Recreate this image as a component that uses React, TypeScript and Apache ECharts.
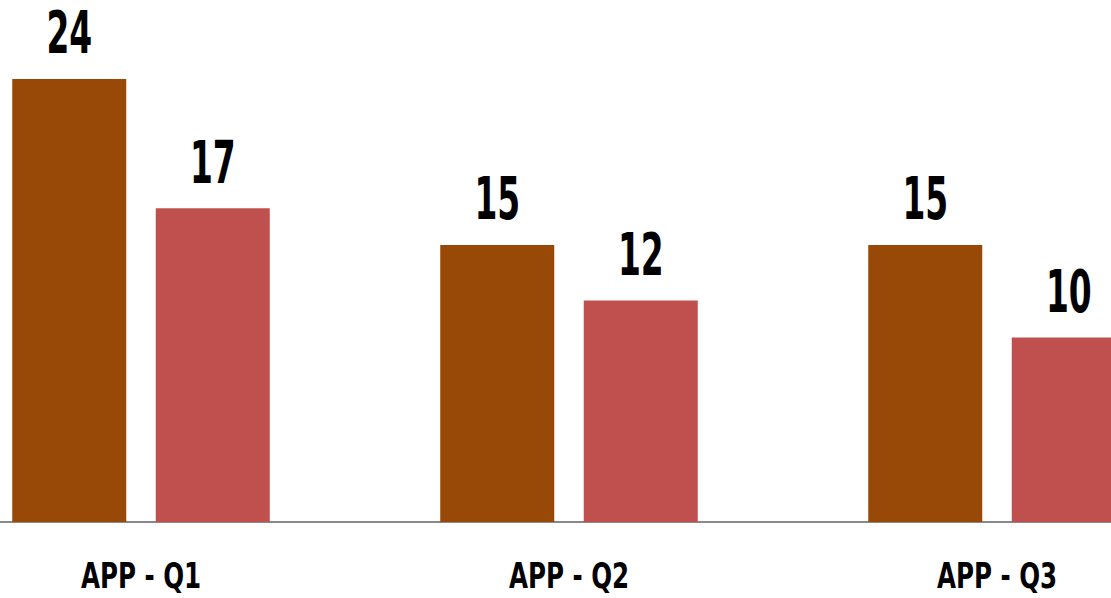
import React, { useEffect, useRef } from "react";
import * as echarts from "echarts";

const categories = ["APP - Q1", "APP - Q2", "APP - Q3"];
const seriesA = [24, 15, 15];
const seriesB = [17, 12, 10];

const BROWN = "#984807";
const RED = "#C0504D";
const FONT = "'DejaVu Sans Condensed', 'DejaVu Sans', sans-serif";
const BAR_W = 114;
const BAR_GAP = 29.5;

// Condensed bold text drawn through a custom series so it can be narrowed.
function valueLabels(values: number[], shift: number) {
  return {
    type: "custom",
    clip: false,
    silent: true,
    data: values.map((v, i) => [i, v]),
    encode: { x: 0, y: 1 },
    renderItem: (params: any, api: any) => {
      const p = api.coord([api.value(0), api.value(1)]);
      return {
        type: "text",
        x: p[0] + shift,
        y: p[1] - 46,
        scaleX: 0.63,
        style: {
          text: String(api.value(1)),
          fontFamily: FONT,
          fontWeight: "bold",
          fontSize: 58,
          lineHeight: 46,
          fill: "#000",
          align: "center",
          verticalAlign: "middle",
        },
      };
    },
  };
}

export default function App() {
  const ref = useRef<HTMLDivElement>(null);

  useEffect(() => {
    if (!ref.current) return;
    const chart = echarts.init(ref.current, null, { renderer: "svg" });
    const half = (BAR_W + BAR_GAP) / 2;
    chart.setOption({
      animation: false,
      backgroundColor: "#fff",
      grid: { left: 0, right: 0, top: 60.5, bottom: 76, containLabel: false },
      xAxis: {
        type: "category",
        data: categories,
        axisLine: { show: true, lineStyle: { color: "#898989", width: 2 } },
        axisTick: { show: false },
        axisLabel: { show: false },
      },
      yAxis: {
        type: "value",
        min: 0,
        max: 25,
        show: false,
        splitLine: { show: false },
      },
      series: [
        {
          type: "bar",
          data: seriesA,
          barWidth: BAR_W,
          barGap: (BAR_GAP / BAR_W) * 100 + "%",
          itemStyle: { color: BROWN },
        },
        {
          type: "bar",
          data: seriesB,
          barWidth: BAR_W,
          itemStyle: { color: RED },
        },
        valueLabels(seriesA, -half),
        valueLabels(seriesB, half),
        {
          type: "custom",
          clip: false,
          silent: true,
          data: categories.map((_, i) => [i, 0]),
          encode: { x: 0, y: 1 },
          renderItem: (params: any, api: any) => {
            const p = api.coord([api.value(0), 0]);
            return {
              type: "text",
              x: p[0],
              y: p[1] + 54,
              scaleX: 0.78,
              style: {
                text: categories[params.dataIndex],
                fontFamily: FONT,
                fontWeight: "bold",
                fontSize: 35,
                lineHeight: 30,
                fill: "#000",
                align: "center",
                verticalAlign: "middle",
              },
            };
          },
        },
      ],
    });
    return () => chart.dispose();
  }, []);

  return (
    <div
      ref={ref}
      style={{ position: "fixed", left: -73, top: 0, width: 1284, height: 598 }}
    />
  );
}
